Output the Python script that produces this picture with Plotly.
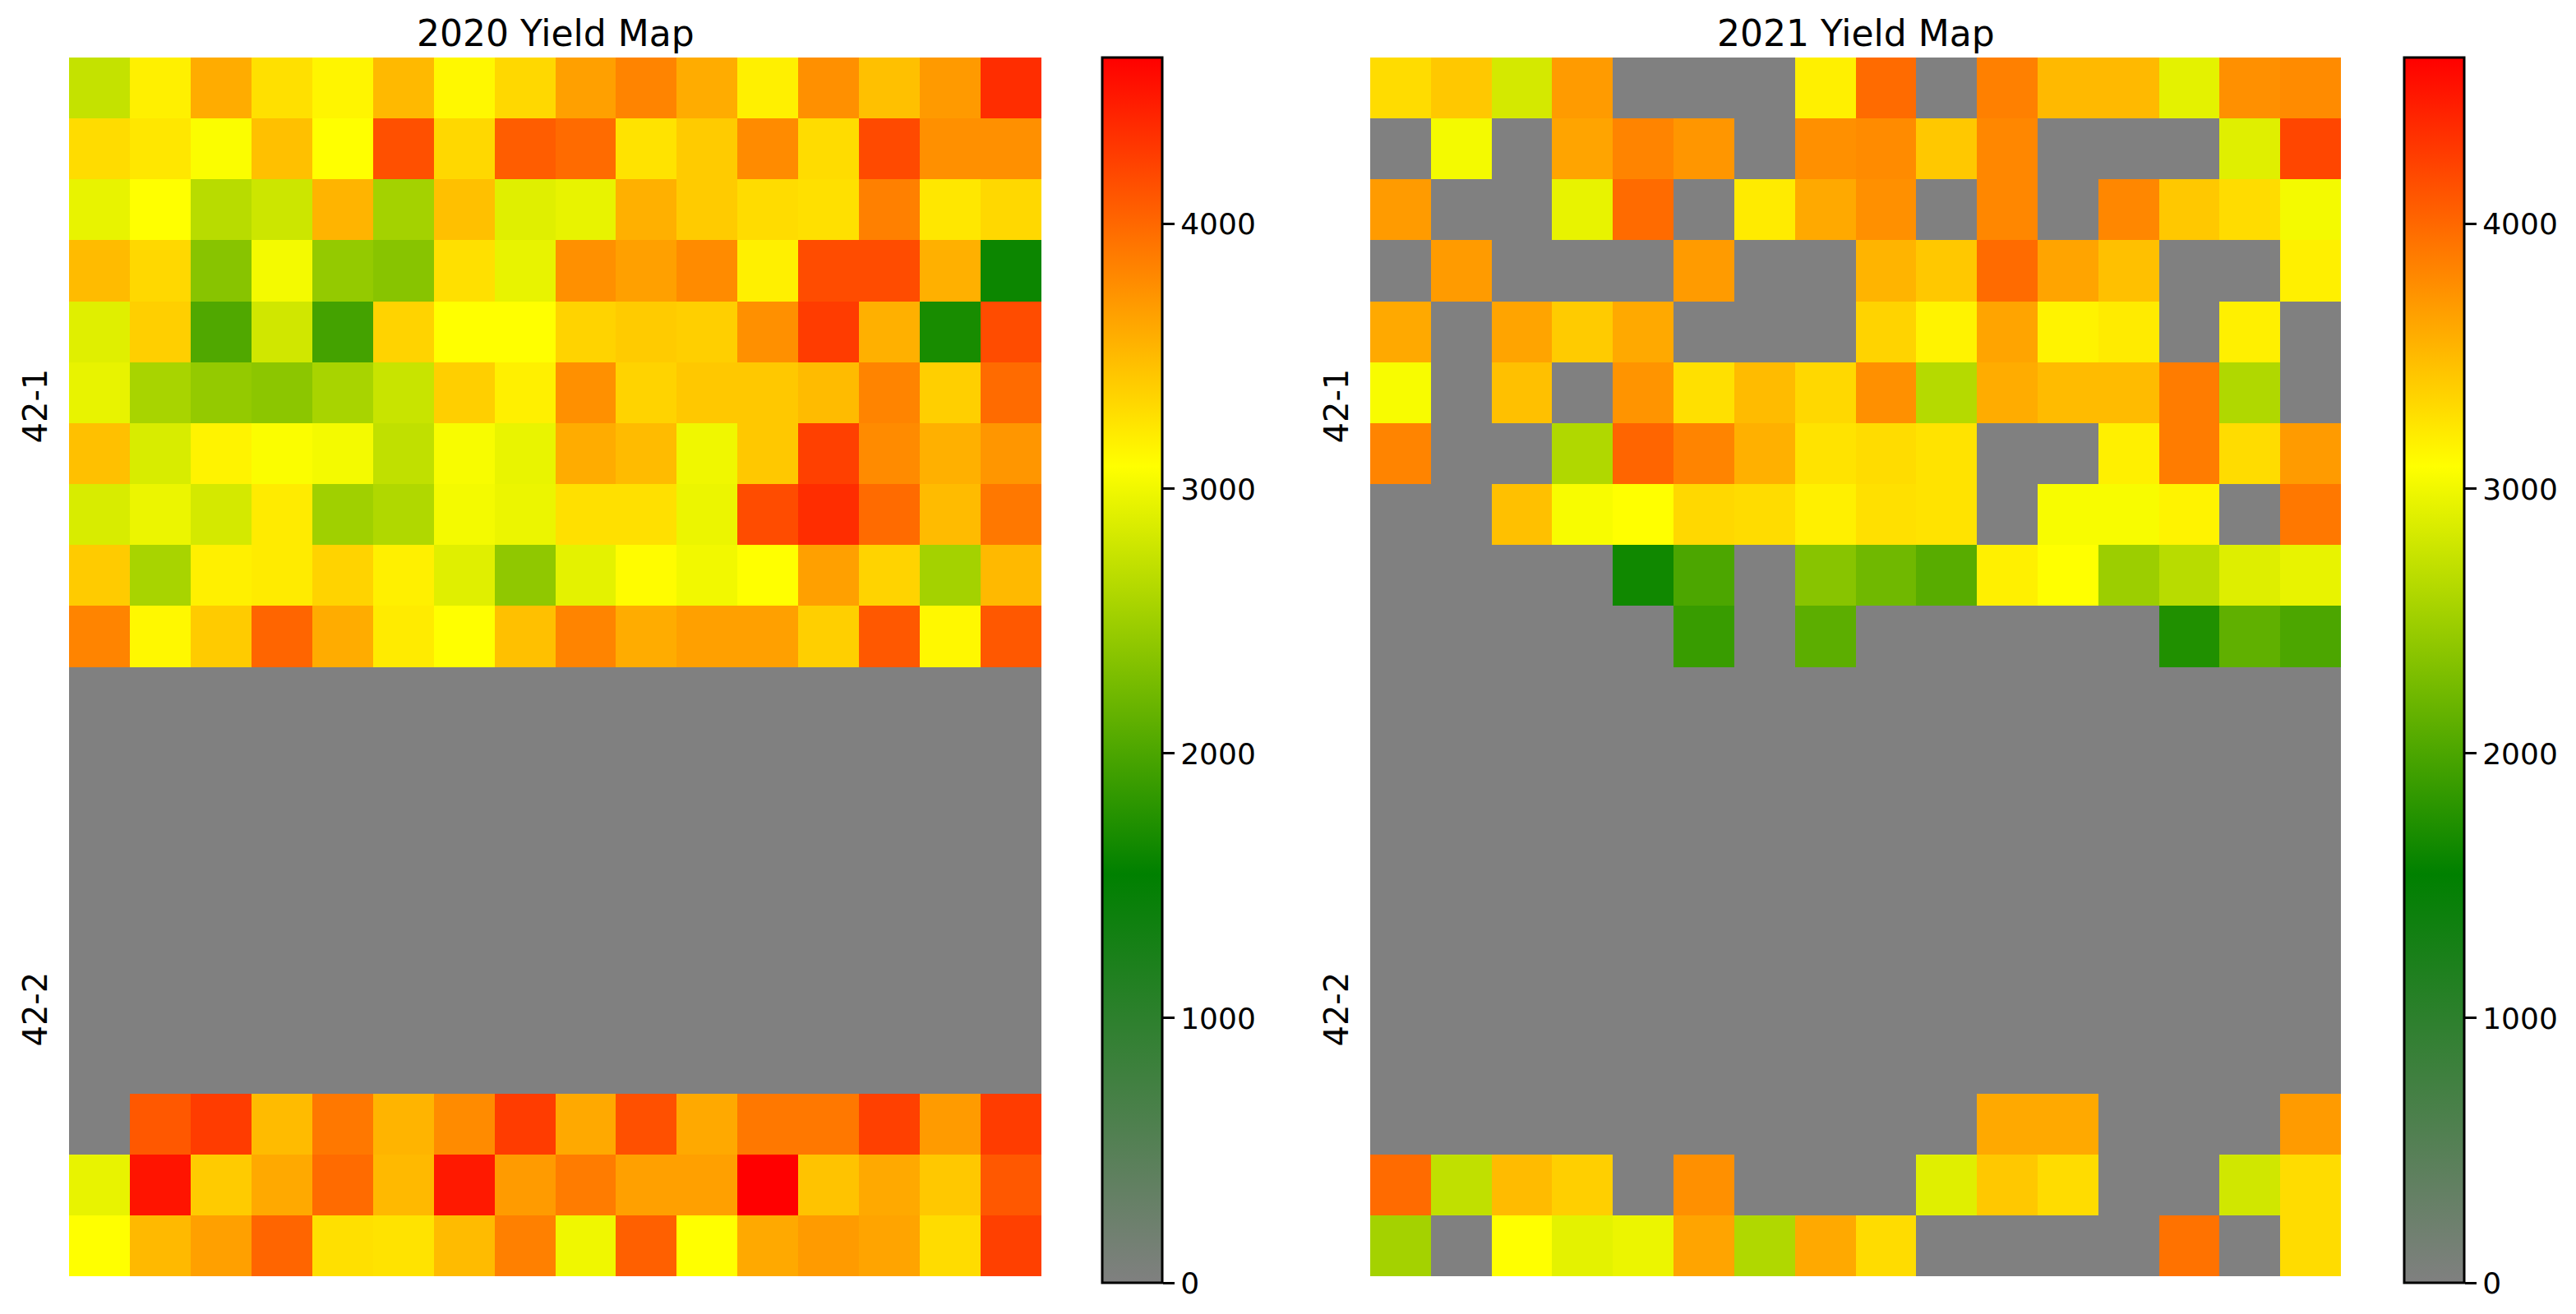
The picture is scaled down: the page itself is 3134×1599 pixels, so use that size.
import plotly.graph_objects as go

W, H = 3134, 1599

titles = ["2020 Yield Map", "2021 Yield Map"]
section_labels = ["42-1", "42-2"]
section_rows = [5.3, 15.2]
cbar_ticks = [0, 1000, 2000, 3000, 4000]
zmax_value = 4630
empty_row = [0] * 16

yield_2020 = [
    [2730, 3180, 3590, 3275, 3150, 3510, 3130, 3320, 3660, 3830, 3590, 3180, 3760, 3470, 3700, 4360],
    [3300, 3230, 3060, 3470, 3087, 4145, 3320, 4070, 3980, 3255, 3400, 3790, 3300, 4180, 3760, 3760],
    [2945, 3087, 2657, 2777, 3540, 2535, 3470, 2898, 2945, 3565, 3400, 3300, 3275, 3855, 3230, 3320],
    [3500, 3320, 2365, 3020, 2438, 2365, 3275, 2945, 3760, 3660, 3790, 3180, 4170, 4170, 3565, 1615],
    [2898, 3380, 2027, 2800, 1955, 3350, 3087, 3087, 3350, 3400, 3380, 3760, 4267, 3565, 1690, 4170],
    [2945, 2560, 2438, 2390, 2560, 2753, 3380, 3180, 3760, 3350, 3420, 3420, 3500, 3830, 3380, 3980],
    [3470, 2850, 3160, 3060, 3020, 2705, 3045, 2955, 3590, 3500, 2995, 3420, 4240, 3790, 3565, 3720],
    [2850, 2970, 2825, 3205, 2511, 2608, 3020, 2970, 3275, 3275, 2970, 4170, 4360, 3980, 3500, 3905],
    [3400, 2560, 3180, 3205, 3350, 3180, 2898, 2414, 2925, 3105, 3005, 3087, 3660, 3350, 2535, 3510],
    [3830, 3130, 3400, 4020, 3590, 3205, 3087, 3470, 3830, 3590, 3660, 3660, 3380, 4095, 3130, 4095],
    empty_row, empty_row, empty_row, empty_row, empty_row, empty_row, empty_row,
    [0, 4095, 4267, 3500, 3905, 3540, 3790, 4267, 3610, 4145, 3610, 3905, 3905, 4240, 3690, 4267],
    [2945, 4510, 3400, 3610, 3980, 3510, 4480, 3690, 3880, 3660, 3660, 4630, 3450, 3610, 3420, 4095],
    [3087, 3510, 3660, 4020, 3275, 3255, 3500, 3855, 2995, 4050, 3087, 3610, 3690, 3640, 3300, 4240],
]

yield_2021 = [
    [3300, 3420, 2825, 3690, 0, 0, 0, 3180, 3980, 0, 3855, 3510, 3510, 2925, 3760, 3790],
    [0, 3020, 0, 3640, 3830, 3720, 0, 3760, 3790, 3420, 3815, 0, 0, 0, 2898, 4205],
    [3690, 0, 0, 2945, 3980, 0, 3205, 3610, 3760, 0, 3815, 0, 3815, 3420, 3300, 3020],
    [0, 3690, 0, 0, 0, 3690, 0, 0, 3540, 3420, 3980, 3640, 3470, 0, 0, 3180],
    [3610, 0, 3640, 3400, 3610, 0, 0, 0, 3350, 3160, 3640, 3160, 3205, 0, 3180, 0],
    [3045, 0, 3470, 0, 3735, 3275, 3500, 3320, 3760, 2640, 3590, 3500, 3500, 3880, 2608, 0],
    [3830, 0, 0, 2608, 4020, 3830, 3565, 3255, 3300, 3255, 0, 0, 3180, 3880, 3300, 3690],
    [0, 0, 3470, 3045, 3087, 3320, 3300, 3180, 3275, 3255, 0, 3045, 3045, 3160, 0, 3905],
    [0, 0, 0, 0, 1640, 2003, 0, 2365, 2220, 2075, 3180, 3087, 2487, 2657, 2885, 2945],
    [0, 0, 0, 0, 0, 1882, 0, 2100, 0, 0, 0, 0, 0, 1737, 2124, 2003],
    empty_row, empty_row, empty_row, empty_row, empty_row, empty_row, empty_row,
    [0, 0, 0, 0, 0, 0, 0, 0, 0, 0, 3610, 3610, 0, 0, 0, 3690],
    [3980, 2705, 3500, 3380, 0, 3760, 0, 0, 0, 2898, 3420, 3300, 0, 0, 2800, 3300],
    [2535, 0, 3087, 2925, 2970, 3640, 2608, 3610, 3300, 0, 0, 0, 0, 3940, 0, 3300],
]

scale = [[0, "#808080"], [1 / 3, "#008000"], [2 / 3, "#ffff00"], [1, "#ff0000"]]
FONT = "DejaVu Sans"
TEXT = "#000000"

panels = [
    dict(z=yield_2020, x0=84, x1=1267, cb0=1341, ax=""),
    dict(z=yield_2021, x0=1667, x1=2848, cb0=2925, ax="2"),
]
plot_top, plot_bot = 70, 1553
cb_top, cb_bot = 70, 1561
cb_w = 73

fig = go.Figure()
annotations = []
for p, title in zip(panels, titles):
    fig.add_trace(go.Heatmap(
        z=p["z"], xaxis="x" + p["ax"], yaxis="y" + p["ax"],
        colorscale=scale, zmin=0, zmax=zmax_value, xgap=0, ygap=0,
        colorbar=dict(
            thickness=cb_w, thicknessmode="pixels",
            len=cb_bot - cb_top, lenmode="pixels",
            x=p["cb0"] / W, xanchor="left", xpad=0,
            y=1 - cb_bot / H, yanchor="bottom", ypad=0,
            outlinecolor="black", outlinewidth=3, borderwidth=0,
            tickvals=cbar_ticks, ticks="outside", ticklen=14, tickwidth=3,
            tickcolor="black", tickfont=dict(family=FONT, size=36, color=TEXT),
        ),
    ))
    annotations.append(dict(
        text=title, xref="paper", yref="paper",
        x=(p["x0"] + p["x1"]) / 2 / W, y=1 - 68 / H,
        xanchor="center", yanchor="bottom", showarrow=False,
        font=dict(family=FONT, size=44, color=TEXT),
    ))

layout = dict(
    width=W, height=H, margin=dict(l=0, r=0, t=0, b=0),
    paper_bgcolor="white", plot_bgcolor="#808080", annotations=annotations,
)
for p in panels:
    layout["xaxis" + p["ax"]] = dict(
        domain=[p["x0"] / W, p["x1"] / W], showticklabels=False, ticks="",
        showgrid=False, zeroline=False, showline=False,
        anchor="y" + p["ax"],
    )
    layout["yaxis" + p["ax"]] = dict(
        domain=[1 - plot_bot / H, 1 - plot_top / H], autorange="reversed",
        tickvals=section_rows, ticktext=section_labels, tickangle=-90,
        ticks="", showgrid=False, zeroline=False, showline=False,
        tickfont=dict(family=FONT, size=40, color=TEXT),
        ticklabelstandoff=18, anchor="x" + p["ax"],
    )
fig.update_layout(**layout)
fig.write_html("out.html", config={"displayModeBar": False},
               post_script="document.body.style.margin='0';")
